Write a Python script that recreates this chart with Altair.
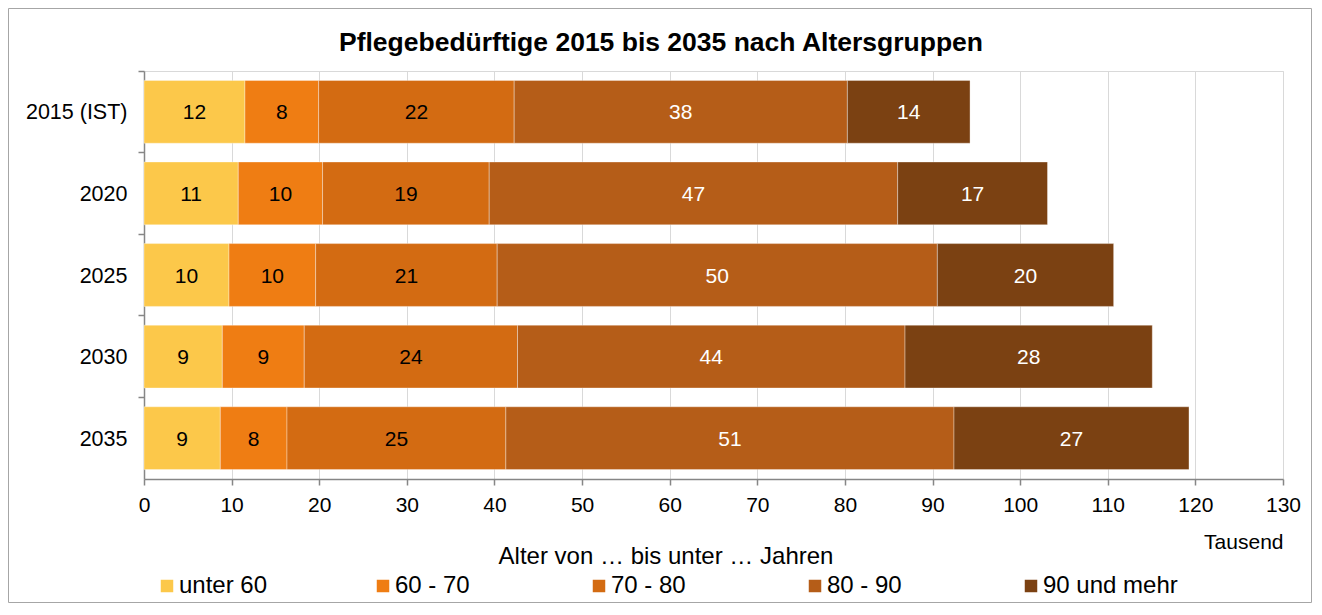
import altair as alt
import pandas as pd

# ---- data (Tausend) ----
years = ["2015 (IST)", "2020", "2025", "2030", "2035"]
groups = ["unter 60", "60 - 70", "70 - 80", "80 - 90", "90 und mehr"]
unter_60 = [11.52, 10.76, 9.70, 8.94, 8.71]
g60_70 = [8.41, 9.62, 9.89, 9.35, 7.61]
g70_80 = [22.32, 19.02, 20.72, 24.34, 24.98]
g80_90 = [38.03, 46.62, 50.24, 44.23, 51.15]
g90_plus = [14.00, 17.10, 20.12, 28.22, 26.82]
colors = ["#FCC84A", "#EF7D13", "#D36B12", "#B55D18", "#7B4112"]
label_colors = ["#000000", "#000000", "#000000", "#FFFFFF", "#FFFFFF"]
x_ticks = [0, 10, 20, 30, 40, 50, 60, 70, 80, 90, 100, 110, 120, 130]

title_text = "Pflegebedürftige 2015 bis 2035 nach Altersgruppen"
legend_title = "Alter von … bis unter … Jahren"
x_title = "Tausend"

series = [unter_60, g60_70, g70_80, g80_90, g90_plus]
rows = []
for gi, (g, vals) in enumerate(zip(groups, series)):
    for y, v in zip(years, vals):
        rows.append({"Jahr": y, "Gruppe": g, "Wert": v, "idx": gi, "lc": label_colors[gi]})
df = pd.DataFrame(rows)

FONT = "Liberation Sans"
W, H = 1139, 408
PAD = {"left": 136, "top": 63, "right": 29, "bottom": 124}
GRAY = "#868686"

y_scale = alt.Scale(paddingInner=0, paddingOuter=0)
x_scale = alt.Scale(domain=[0, 130], nice=False)

base = alt.Chart(df)

bars = base.mark_bar(
    height={"band": 0.77}, stroke="#FFFFFF", strokeOpacity=0.35, strokeWidth=1
).encode(
    y=alt.Y(
        "Jahr:N", sort=years, scale=y_scale, title=None,
        axis=alt.Axis(
            title=None, labelFontSize=21.5, labelColor="#000000", labelPadding=11,
            tickSize=6, tickColor=GRAY, tickWidth=1.5, domainColor=GRAY,
            domainWidth=1.5, bandPosition=0, grid=False, labelOffset=1.5,
        ),
    ),
    x=alt.X(
        "Wert:Q", stack="zero", scale=x_scale, title=x_title,
        axis=alt.Axis(
            values=x_ticks, format="d", title=x_title, titleX=W, titleY=69,
            titleAlign="right", titleBaseline="alphabetic", titleFontSize=21,
            titleFontWeight="normal", titleColor="#000000",
            labelFontSize=21, labelColor="#000000", labelPadding=9.5,
            labelFlush=False, labelOverlap=False,
            tickSize=6, tickColor=GRAY, tickWidth=1.5, domainColor=GRAY,
            domainWidth=1.5, grid=True, gridColor="#D9D9D9", gridWidth=1,
        ),
    ),
    color=alt.Color(
        "Gruppe:N", sort=groups,
        scale=alt.Scale(domain=groups, range=colors),
        legend=alt.Legend(
            title=legend_title, orient="none", legendX=11, legendY=474,
            direction="horizontal", columns=5, gridAlign="all", columnPadding=57,
            symbolType="square", symbolSize=156, symbolStrokeWidth=0,
            symbolOpacity=1, labelFontSize=24, labelColor="#000000",
            labelOffset=0, labelLimit=400, titleFontSize=24,
            titleFontWeight="normal", titleColor="#000000", titleAnchor="middle",
            titlePadding=5, padding=0, titleLimit=800,
        ),
    ),
    order=alt.Order("idx:Q"),
)

text = base.transform_stack(
    stack="Wert", groupby=["Jahr"], as_=["x0", "x1"],
    sort=[alt.SortField("idx", order="ascending")],
).transform_calculate(
    mid="(datum.x0 + datum.x1) / 2"
).mark_text(fontSize=21, dy=1.5, font=FONT).encode(
    y=alt.Y("Jahr:N", sort=years, scale=y_scale, title=None),
    x=alt.X("mid:Q", scale=x_scale, title=x_title),
    text=alt.Text("Wert:Q", format=".0f"),
    color=alt.Color("lc:N", scale=None, legend=None),
)

frame = alt.Chart(pd.DataFrame({"f": [0]})).mark_rect(
    fillOpacity=0, stroke="#A6A6A6", strokeWidth=1
).encode(
    x=alt.value(-PAD["left"] + 0.5),
    x2=alt.value(W + PAD["right"] - 0.5),
    y=alt.value(-PAD["top"] + 0.5),
    y2=alt.value(H + PAD["bottom"] - 0.5),
)

chart = alt.layer(frame, bars, text).resolve_scale(
    color="independent"
).properties(
    width=W, height=H,
    padding=PAD,
    autosize=alt.AutoSizeParams(type="none"),
    title=alt.Title(
        title_text, fontSize=26.5, fontWeight="bold", font=FONT, color="#000000",
        anchor="middle", frame="group", dx=-52.5, baseline="bottom", offset=0, dy=75,
    ),
).configure(
    font=FONT,
).configure_view(
    stroke="#D9D9D9", strokeWidth=1
)

chart.save("out.html", embed_options={"renderer": "svg", "actions": False})
